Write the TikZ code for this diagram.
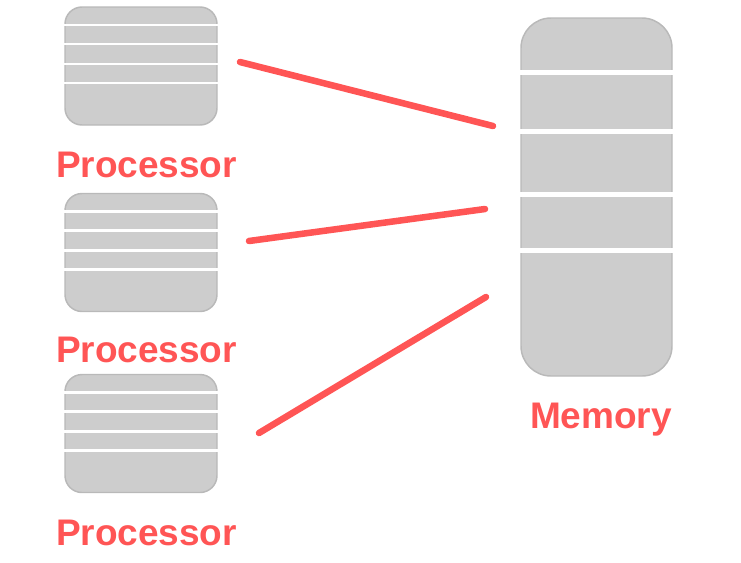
\documentclass[tikz,border=0pt]{standalone}
\usepackage{fontspec}
\setmainfont{Liberation Sans}
\usetikzlibrary{calc}

\definecolor{boxgray}{RGB}{205,205,205}
\definecolor{edgegray}{RGB}{185,185,185}
\definecolor{busred}{RGB}{255,85,85}

\begin{document}
\begin{tikzpicture}[x=0.75pt,y=-0.75pt,
    proc_box/.style={rectangle,rounded corners=12.75pt,fill=boxgray,draw=edgegray,line width=1.1pt,minimum width=114pt,minimum height=88.5pt,inner sep=0pt},
    mem_box/.style={rectangle,rounded corners=22.5pt,fill=boxgray,draw=edgegray,line width=1.1pt,minimum width=113.25pt,minimum height=268.5pt,inner sep=0pt},
    name_text/.style={text=busred,font=\fontsize{27.75}{30}\selectfont\bfseries,anchor=base,inner sep=0pt},
    bus_line/.style={draw=busred,line width=4.9pt,line cap=round}]

    \useasboundingbox (0,0) rectangle (741,562);

    \node[proc_box] (p1) at (141,66) {};
    \node[proc_box] (p2) at (141,252.5) {};
    \node[proc_box] (p3) at (141,433.5) {};
    \node[mem_box] (mem) at (596.5,197) {};

    % stripes on the processors and the memory
    \foreach \p in {p1,p2,p3}
      \foreach \s in {-41,-22,-2,17}
        \draw[white,line width=1.9pt] ($(\p.west)+(0,\s)$) -- ($(\p.east)+(0,\s)$);
    \foreach \s in {-125,-66,-3,53}
      \draw[white,line width=3.75pt] ($(mem.west)+(-1,\s)$) -- ($(mem.east)+(1,\s)$);

    \node[name_text] (l1) at (146.5,177) {Processor};
    \node[name_text] (l2) at (146.5,362) {Processor};
    \node[name_text] (l3) at (146.5,545) {Processor};
    \node[name_text] (lm) at (601,428) {Memory};

    \coordinate (a1) at (240,62);
    \coordinate (b1) at (493,126);
    \coordinate (a2) at (249,241);
    \coordinate (b2) at (485,209);
    \coordinate (a3) at (259,433);
    \coordinate (b3) at (486,297);

    \draw[bus_line] (a1) -- (b1);
    \draw[bus_line] (a2) -- (b2);
    \draw[bus_line] (a3) -- (b3);
\end{tikzpicture}
\end{document}
